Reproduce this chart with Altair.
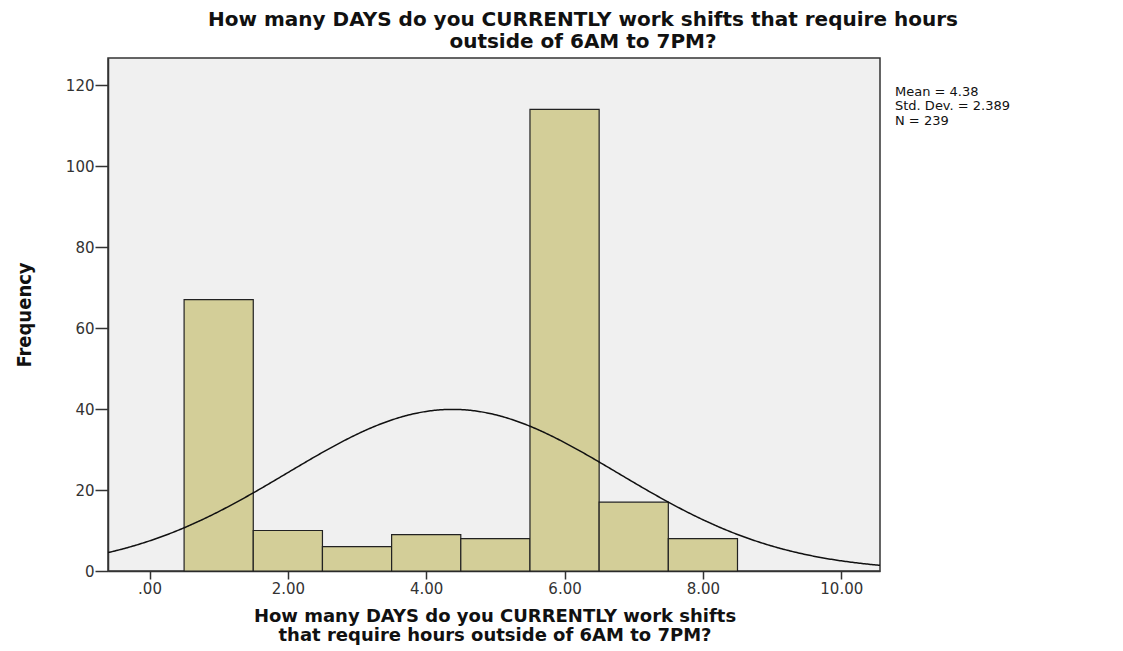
import altair as alt
import pandas as pd

# Histogram bins (centre value) and frequencies
bin_centers = [1, 2, 3, 4, 5, 6, 7, 8]
frequencies = [67, 10, 6, 9, 8, 114, 17, 8]

# Summary statistics shown on the chart
mean_val = 4.38
std_val = 2.389
n_val = 239
bin_width = 1.0

x_ticks = [0, 2, 4, 6, 8, 10]
y_ticks = [0, 20, 40, 60, 80, 100, 120]

title_lines = ["How many DAYS do you CURRENTLY work shifts that require hours",
               "outside of 6AM to 7PM?"]
xtitle_lines = ["How many DAYS do you CURRENTLY work shifts",
                "that require hours outside of 6AM to 7PM?"]
stats_lines = [f"Mean = {mean_val}", f"Std. Dev. = {std_val}", f"N = {n_val}"]

bars = pd.DataFrame({
    "start": [c - bin_width / 2 for c in bin_centers],
    "end": [c + bin_width / 2 for c in bin_centers],
    "count": frequencies,
})

W, H = 772, 513
xdom = [-0.6, 10.56]
ydom = [0, 126.7]

xscale = alt.Scale(domain=xdom, nice=False, zero=False)
yscale = alt.Scale(domain=ydom, nice=False)

xaxis = alt.Axis(values=x_ticks, format=".2f", labelExpr="replace(datum.label, /^0/, '')",
                 title=None, grid=False, tickSize=8, tickColor="#333", domainColor="#333",
                 labelFont="DejaVu Sans", labelFontSize=15, labelColor="#333", labelPadding=2,
                 domainWidth=1.5, tickWidth=1.5)
yaxis = alt.Axis(values=y_ticks, title=None, grid=False, tickSize=13, tickColor="#333",
                 domainColor="#333", labelFont="DejaVu Sans", labelFontSize=15, labelColor="#333",
                 labelPadding=1, domainWidth=1.5, tickWidth=1.5)

hist = alt.Chart(bars).mark_rect(fill="#d3ce98", stroke="#222", strokeWidth=1.2).encode(
    x=alt.X("start:Q", scale=xscale, axis=xaxis),
    x2="end:Q",
    y=alt.Y("count:Q", scale=yscale, axis=yaxis),
    y2=alt.datum(0),
)

curve = alt.Chart(alt.sequence(xdom[0], xdom[1] + 0.01, 0.02, as_="x")).transform_calculate(
    y=f"{n_val * bin_width} / ({std_val} * sqrt(2 * PI)) * exp(-0.5 * pow((datum.x - {mean_val}) / {std_val}, 2))"
).mark_line(color="#111", strokeWidth=1.5, clip=True).encode(
    x=alt.X("x:Q", scale=xscale),
    y=alt.Y("y:Q", scale=yscale),
)

title_df = pd.DataFrame({"t": title_lines, "dy": [-38, -16]})
title = alt.Chart(title_df).mark_text(font="DejaVu Sans", fontWeight="bold", fontSize=20,
                                      color="#111", align="center", baseline="middle").encode(
    x=alt.value(475), y=alt.Y("dy:Q", scale=None), text="t:N")

xt_df = pd.DataFrame({"t": xtitle_lines, "dy": [559, 578]})
xtitle = alt.Chart(xt_df).mark_text(font="DejaVu Sans", fontWeight="bold", fontSize=18,
                                    color="#111", align="center", baseline="middle").encode(
    x=alt.value(387), y=alt.Y("dy:Q", scale=None), text="t:N")

ytitle = alt.Chart(pd.DataFrame({"t": ["Frequency"]})).mark_text(
    font="DejaVu Sans Condensed", fontWeight="bold", fontSize=20, color="#111",
    angle=270, align="center", baseline="middle").encode(
    x=alt.value(25 - 108), y=alt.value(315 - 58), text="t:N")

st_df = pd.DataFrame({"t": stats_lines, "dy": [34, 48, 63]})
stats = alt.Chart(st_df).mark_text(font="DejaVu Sans", fontSize=13, color="#111",
                                   align="left", baseline="middle").encode(
    x=alt.value(787), y=alt.Y("dy:Q", scale=None), text="t:N")

chart = alt.layer(hist, curve, title, xtitle, ytitle, stats).properties(
    width=W, height=H,
    padding={"left": 100, "top": 50, "right": 235, "bottom": 80},
    autosize=alt.AutoSizeParams(type="none"),
    background="white",
).configure_view(fill="#f0f0f0", stroke="#333", strokeWidth=1.5)

chart.save("out.html", embed_options={"renderer": "svg", "actions": False})
